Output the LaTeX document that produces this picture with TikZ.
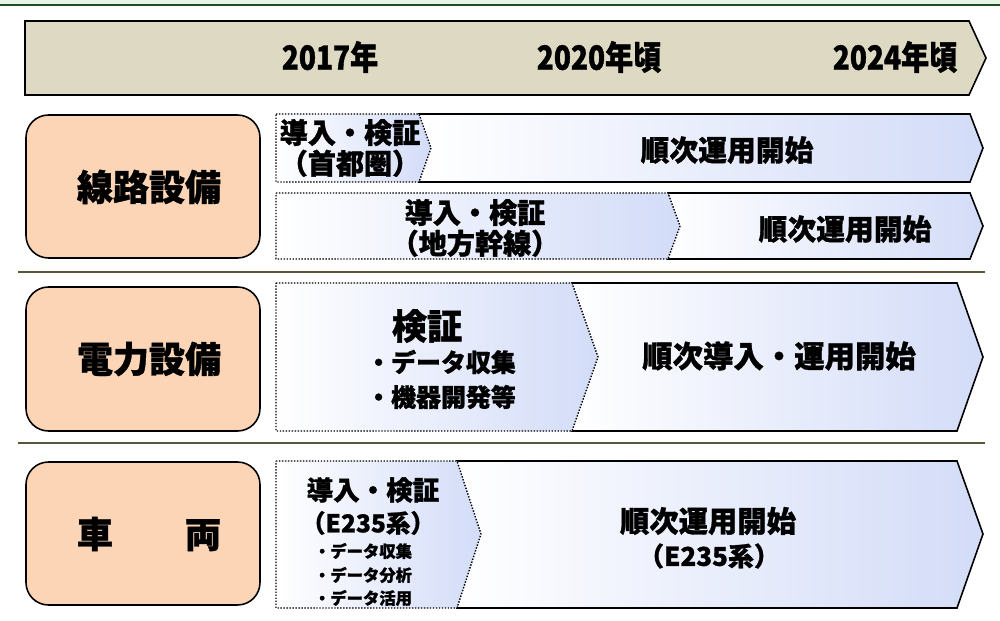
\documentclass[tikz,border=0pt]{standalone}
\usepackage{fontspec}
\newfontfamily\jp{Noto Sans CJK JP}[BoldFeatures={FakeBold=1.1}]
\newfontfamily\jpn{Noto Sans CJK JP}[FakeStretch=0.84,BoldFeatures={FakeBold=1.1}]
\definecolor{bannerfill}{HTML}{DDD9C3}
\definecolor{peach}{HTML}{FBD5B5}
\definecolor{lblue}{HTML}{D3DCF8}
\definecolor{sepcol}{HTML}{5A563A}
\definecolor{topgreen}{HTML}{E6F5E6}
\definecolor{darkgreen}{HTML}{1E4E1E}
\newcommand{\fsz}[1]{\jp\bfseries\fontsize{#1}{#1}\selectfont}
\newcommand{\fszn}[1]{\jpn\bfseries\fontsize{#1}{#1}\selectfont}
\begin{document}
\begin{tikzpicture}[x=0.02cm,y=-0.02cm,
  txt/.style={inner sep=0pt, outer sep=0pt, align=center, text=black},
  bannerbox/.style={draw=black, line width=0.9pt, fill=bannerfill, line join=miter},
  catbox/.style={draw=black, line width=0.9pt, fill=peach, rounded corners=0.45cm},
  solidarrow/.style={draw=black, line width=0.9pt, left color=white, right color=lblue, shading angle=90},
  dotarrow/.style={draw=black, line width=0.8pt, dash pattern=on 0.8pt off 0.9pt, left color=white, right color=lblue, shading angle=90},
  sepline/.style={draw=sepcol, line width=1.4pt}
]
\useasboundingbox (0,0) rectangle (1000,621);
% top band
\fill[topgreen] (0,0) rectangle (1000,4);
\draw[darkgreen, line width=1.1pt] (0,5) -- (1000,5);

% timeline banner
\path[bannerbox] (25,21) -- (969,21) -- (986,58) -- (969,95) -- (25,95) -- cycle;
\node[txt, font=\fszn{19}] (y2017) at (330,57) {2017年};
\node[txt, font=\fszn{19}] (y2020) at (599,57) {2020年頃};
\node[txt, font=\fszn{19}] (y2024) at (895,57) {2024年頃};

% category boxes
\path[catbox] (26,115) rectangle (260,258);
\path[catbox] (26,287) rectangle (260,431);
\path[catbox] (26,462) rectangle (260,605);
\node[txt, font=\fsz{20.5}] (senro) at (149,187) {線路設備};
\node[txt, font=\fsz{20.5}] (denryoku) at (149,359) {電力設備};
\node[txt, font=\fsz{20.5}] (sharyo) at (149,534) {車　　両};

% separators
\draw[sepline] (18,272) -- (985,272);
\draw[sepline] (18,443) -- (985,443);

% row 1a
\path[solidarrow] (419,114) -- (970,114) -- (983,148) -- (970,182) -- (419,182) -- cycle;
\path[dotarrow] (276,114) -- (419,114) -- (431,148) -- (419,182) -- (276,182) -- cycle;
\node[txt, font=\fsz{16}] (r1a) at (350,148) {導入・検証\\[1.5pt]（首都圏）};
\node[txt, font=\fsz{16.4}] (r1aop) at (727,150) {順次運用開始};

% row 1b
\path[solidarrow] (668,193) -- (970,193) -- (983,226) -- (970,259) -- (668,259) -- cycle;
\path[dotarrow] (276,193) -- (668,193) -- (680,226) -- (668,259) -- (276,259) -- cycle;
\node[txt, font=\fsz{16}] (r1b) at (475,228) {導入・検証\\[1.5pt]（地方幹線）};
\node[txt, font=\fsz{16.4}] (r1bop) at (845,229) {順次運用開始};

% row 2
\path[solidarrow] (572,283) -- (957,283) -- (983,357) -- (957,431) -- (572,431) -- cycle;
\path[dotarrow] (276,283) -- (572,283) -- (598,357) -- (572,431) -- (276,431) -- cycle;
\node[txt, font=\fsz{20}] (r2a) at (427,326) {検証};
\node[txt, font=\fsz{14.2}] (r2b) at (441,362) {・データ収集};
\node[txt, font=\fsz{14.2}] (r2c) at (441,397) {・機器開発等};
\node[txt, font=\fsz{17.3}] (r2op) at (779,356) {順次導入・運用開始};

% row 3
\path[solidarrow] (457,461) -- (957,461) -- (983,534) -- (957,608) -- (457,608) -- cycle;
\path[dotarrow] (276,461) -- (457,461) -- (481,534) -- (457,608) -- (276,608) -- cycle;
\node[txt, font=\fsz{15.1}] (r3a) at (373,490) {導入・検証};
\node[txt, font=\fsz{14}] (r3b) at (368,523) {（E235系）};
\node[txt, font=\fsz{9.3}] (r3c) at (363,551) {・データ収集};
\node[txt, font=\fsz{9.3}] (r3d) at (363,575) {・データ分析};
\node[txt, font=\fsz{9.3}] (r3e) at (363,598) {・データ活用};
\node[txt, font=\fsz{16.7}] (r3op) at (708,521) {順次運用開始};
\node[txt, font=\fsz{14.8}] (r3op2) at (709,556) {（E235系）};
\end{tikzpicture}
\end{document}
